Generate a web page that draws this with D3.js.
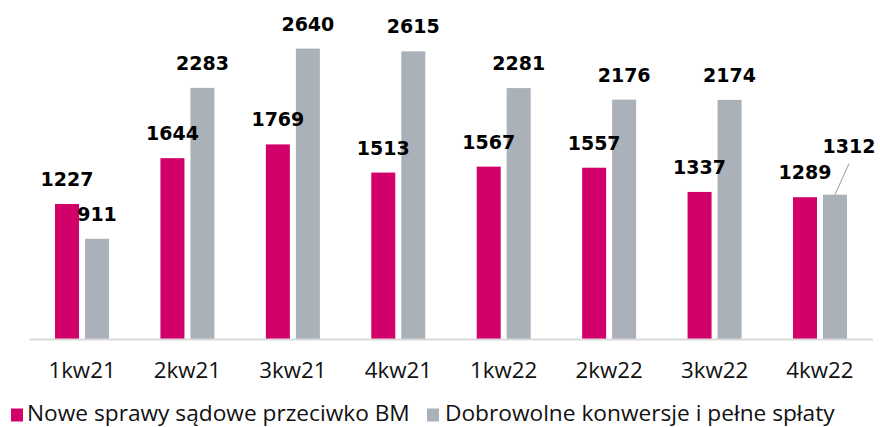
<!DOCTYPE html>
<html>
<head>
<meta charset="utf-8">
<script src="https://cdn.jsdelivr.net/npm/d3@7"></script>
<style>
  body { margin: 0; background: #fff; }
  svg { display: block; }
</style>
</head>
<body>
<div id="chart"></div>
<script>
/* DATA */
var quarters = ["1kw21", "2kw21", "3kw21", "4kw21", "1kw22", "2kw22", "3kw22", "4kw22"];
var seriesNames = ["Nowe sprawy sądowe przeciwko BM", "Dobrowolne konwersje i pełne spłaty"];
var noweSprawy = [1227, 1644, 1769, 1513, 1567, 1557, 1337, 1289];
var dobrowolne = [911, 2283, 2640, 2615, 2281, 2176, 2174, 1312];

var colors = ["#d1006b", "#aab1b8"];

var width = 880, height = 427;

var svg = d3.select("#chart").append("svg")
  .attr("width", width)
  .attr("height", height);

/* scales */
var x0 = d3.scaleBand().domain(quarters).range([29.3, 872.7]).padding(0);
var bw = x0.bandwidth();
var x1 = d3.scaleBand().domain([0, 1]).range([bw / 2 - 27, bw / 2 + 27]).paddingInner(0.2);
var y = d3.scaleLinear().domain([0, 3000]).range([339, 9]);

var rows = quarters.map(function(q, i) {
  return { q: q, vals: [noweSprawy[i], dobrowolne[i]] };
});

/* bars */
var groups = svg.selectAll(".grp")
  .data(rows)
  .enter().append("g")
  .attr("class", "grp")
  .attr("transform", function(d) { return "translate(" + x0(d.q) + ",0)"; });

groups.selectAll("rect")
  .data(function(d) { return d.vals.map(function(v, k) { return { k: k, v: v }; }); })
  .enter().append("rect")
  .attr("x", function(d) { return x1(d.k); })
  .attr("width", x1.bandwidth())
  .attr("y", function(d) { return y(d.v); })
  .attr("height", function(d) { return y(0) - y(d.v); })
  .attr("fill", function(d) { return colors[d.k]; });

/* x axis */
var axis = svg.append("g")
  .attr("transform", "translate(0," + y(0) + ")")
  .call(d3.axisBottom(x0).tickSize(0).tickSizeOuter(0));
axis.select(".domain").attr("stroke", "#d9d9d9").attr("stroke-width", 2);
axis.selectAll("text")
  .attr("y", 39).attr("dy", 0)
  .style("font-family", "'Open Sans', sans-serif")
  .style("font-size", "22.3px")
  .attr("fill", "#111");

/* value labels */
groups.each(function(d, i) {
  var g = d3.select(this);
  d.vals.forEach(function(v, k) {
    var cx = x1(k) + x1.bandwidth() / 2;
    var ty = y(v) - 18;
    var tx = cx;
    /* last gray label sits up and right with a leader line */
    if (i === quarters.length - 1 && k === 1) {
      tx = cx + 14;
      ty = y(v) - 42;
      g.append("line")
        .attr("x1", cx).attr("y1", y(v))
        .attr("x2", cx + 14).attr("y2", y(v) - 31)
        .attr("stroke", "#999").attr("stroke-width", 1);
    }
    g.append("text")
      .attr("x", tx).attr("y", ty)
      .attr("text-anchor", "middle")
      .style("font-family", "'DejaVu Sans', sans-serif")
      .style("font-weight", "bold")
      .style("font-size", "19px")
      .attr("fill", "#000")
      .text(v);
  });
});

/* legend */
var legendX = [11, 427];
seriesNames.forEach(function(name, k) {
  svg.append("rect")
    .attr("x", legendX[k]).attr("y", 408.5)
    .attr("width", 12).attr("height", 13)
    .attr("fill", colors[k]);
  svg.append("text")
    .attr("x", legendX[k] + 16 + k * 2).attr("y", 421)
    .style("font-family", "'Open Sans', sans-serif")
    .style("font-size", "22.7px")
    .attr("fill", "#111")
    .text(name);
});
</script>
</body>
</html>
